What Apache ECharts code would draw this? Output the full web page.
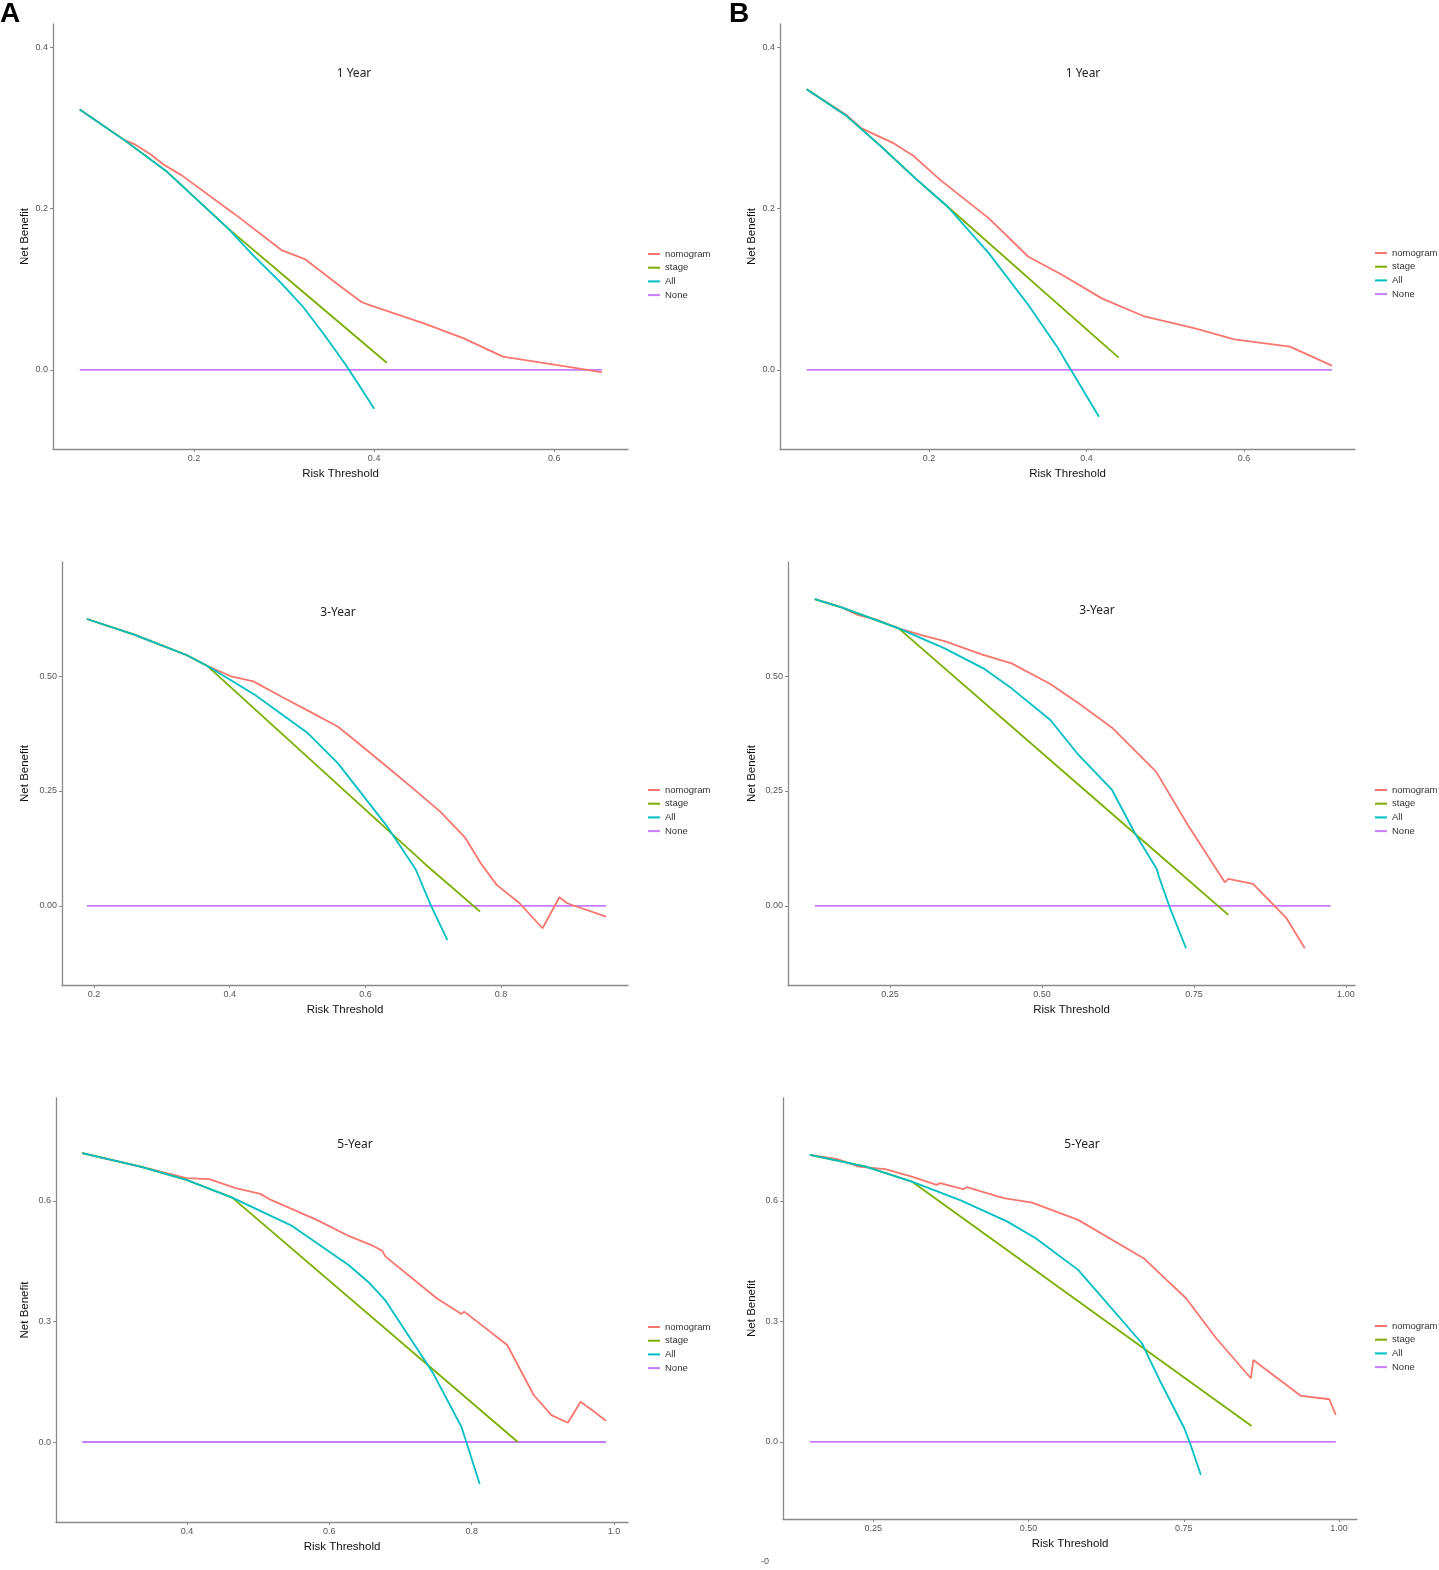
<!DOCTYPE html>
<html>
<head>
<meta charset="utf-8">
<title>Decision curves</title>
<script src="https://cdn.jsdelivr.net/npm/echarts@6/dist/echarts.min.js"></script>
<style>
  html, body { margin: 0; padding: 0; background: #fff; }
  #chart { width: 1439px; height: 1570px; }
</style>
</head>
<body>
<div id="chart"></div>
<script>
// values: [risk threshold, net benefit]
var a1Nomogram = [[0.073,0.323],[0.1226,0.285],[0.1344,0.2797],[0.152,0.2672],[0.166,0.2548],[0.186,0.2416],[0.2456,0.1929],[0.297,0.1487],[0.323,0.1375],[0.3646,0.102],[0.3864,0.084],[0.396,0.080],[0.456,0.0574],[0.4996,0.0392],[0.543,0.0165],[0.6266,0.002],[0.653,-0.003]];
var a1Stage = [[0.073,0.323],[0.1226,0.285],[0.17,0.2457],[0.2377,0.1755],[0.333,0.0855],[0.414,0.009]];
var a1All = [[0.073,0.323],[0.1226,0.285],[0.17,0.2457],[0.2377,0.1755],[0.2654,0.1425],[0.297,0.1074],[0.321,0.0784],[0.3448,0.0434],[0.3686,0.0062],[0.3844,-0.0207],[0.4,-0.048]];
var a1None = [[0.073,0],[0.653,0]];

var b1Nomogram = [[0.0447,0.348],[0.0941,0.3168],[0.1145,0.2995],[0.1554,0.2809],[0.1806,0.2652],[0.2146,0.2354],[0.2761,0.188],[0.3262,0.1404],[0.3694,0.1177],[0.4194,0.0888],[0.4722,0.0669],[0.5378,0.0516],[0.5878,0.038],[0.6584,0.0289],[0.7117,0.0054]];
var b1Stage = [[0.0447,0.348],[0.0941,0.316],[0.1373,0.2788],[0.1827,0.2375],[0.2238,0.2024],[0.3626,0.0826],[0.4409,0.0153]];
var b1All = [[0.0447,0.348],[0.0941,0.316],[0.1373,0.2788],[0.1827,0.2375],[0.2238,0.2024],[0.2761,0.1446],[0.3262,0.0805],[0.3626,0.0289],[0.3798,0.0009],[0.4159,-0.058]];
var b1None = [[0.0447,0],[0.7117,0]];

var a2Nomogram = [[0.1895,0.624],[0.2582,0.5906],[0.3362,0.5457],[0.3673,0.5217],[0.4037,0.4985],[0.4349,0.4884],[0.4765,0.4551],[0.5181,0.4225],[0.5596,0.3898],[0.596,0.3463],[0.6376,0.2957],[0.674,0.2507],[0.7102,0.2051],[0.7466,0.1493],[0.77,0.0928],[0.7935,0.0457],[0.8273,0.0058],[0.861,-0.0486],[0.8859,0.0188],[0.8974,0.0058],[0.9546,-0.0232]];
var a2Stage = [[0.1895,0.624],[0.2582,0.5906],[0.3362,0.5457],[0.3673,0.5217],[0.6894,0.0891],[0.769,-0.0123]];
var a2All = [[0.1895,0.624],[0.2582,0.5906],[0.3362,0.5457],[0.3673,0.5217],[0.4374,0.4587],[0.5154,0.3754],[0.5596,0.3101],[0.6323,0.1724],[0.674,0.0797],[0.6973,-0.0014],[0.7207,-0.0739]];
var a2None = [[0.1895,0],[0.9546,0]];

var b2Nomogram = [[0.1263,0.6674],[0.1715,0.6486],[0.1977,0.6326],[0.2266,0.6232],[0.2643,0.6036],[0.3049,0.5877],[0.3398,0.5761],[0.4007,0.5471],[0.45,0.5275],[0.5138,0.4826],[0.5602,0.4406],[0.6153,0.3877],[0.6877,0.292],[0.74,0.1761],[0.8008,0.0514],[0.8066,0.0587],[0.8472,0.0478],[0.9023,-0.0268],[0.9324,-0.092]];
var b2Stage = [[0.1263,0.6674],[0.1715,0.6486],[0.2643,0.6036],[0.653,0.157],[0.8066,-0.0196]];
var b2All = [[0.1263,0.6674],[0.1715,0.6486],[0.2643,0.6036],[0.3398,0.5601],[0.4036,0.5167],[0.45,0.4732],[0.5138,0.4043],[0.5602,0.3283],[0.6153,0.2522],[0.653,0.158],[0.6888,0.0804],[0.6924,0.0638],[0.7097,-0.0014],[0.737,-0.092]];
var b2None = [[0.1263,0],[0.975,0]];

var a3Nomogram = [[0.2529,0.7187],[0.3347,0.6854],[0.3992,0.6565],[0.4313,0.654],[0.4684,0.6316],[0.5031,0.6174],[0.518,0.6024],[0.5824,0.5527],[0.6271,0.5128],[0.6617,0.4879],[0.6742,0.4763],[0.6791,0.4613],[0.7509,0.3577],[0.7856,0.3187],[0.7896,0.3244],[0.85,0.2415],[0.8872,0.117],[0.912,0.067],[0.9353,0.048],[0.9531,0.1003],[0.969,0.0797],[0.9888,0.053]];
var a3Stage = [[0.2529,0.7187],[0.3347,0.6854],[0.3992,0.6522],[0.4636,0.6082],[0.8648,0.0]];
var a3All = [[0.2529,0.7187],[0.3347,0.6854],[0.3992,0.6522],[0.4636,0.6082],[0.5477,0.5377],[0.6271,0.4406],[0.6568,0.395],[0.6791,0.3518],[0.746,0.171],[0.7856,0.0381],[0.7931,-0.003],[0.8113,-0.1046]];
var a3None = [[0.2529,0],[0.9888,0]];

var b3Nomogram = [[0.1479,0.7145],[0.1923,0.7038],[0.2266,0.6854],[0.2693,0.6789],[0.3121,0.6605],[0.3519,0.6398],[0.3577,0.644],[0.3947,0.6291],[0.4004,0.634],[0.4602,0.6067],[0.5057,0.5957],[0.5799,0.5527],[0.6853,0.4573],[0.7167,0.4116],[0.7537,0.3577],[0.8022,0.2582],[0.8581,0.1585],[0.862,0.2041],[0.9389,0.1145],[0.9845,0.1063],[0.9948,0.0672]];
var b3Stage = [[0.1479,0.7145],[0.2379,0.6854],[0.3121,0.648],[0.8592,0.0398]];
var b3All = [[0.1479,0.7145],[0.2379,0.6854],[0.3121,0.648],[0.3918,0.6007],[0.466,0.5484],[0.5116,0.5071],[0.5799,0.4282],[0.6826,0.2457],[0.711,0.1543],[0.7509,0.0341],[0.7611,-0.0075],[0.7776,-0.0822]];
var b3None = [[0.1479,0],[0.9948,0]];

// tick values
var ticks1X = [0.2, 0.4, 0.6];
var ticks1Y = [0.0, 0.2, 0.4];
var ticksA2X = [0.2, 0.4, 0.6, 0.8];
var ticks2Y = [0.0, 0.25, 0.5];
var ticksB2X = [0.25, 0.5, 0.75, 1.0];
var ticksA3X = [0.4, 0.6, 0.8, 1.0];
var ticks3Y = [0.0, 0.3, 0.6];
var ticksB3X = [0.25, 0.5, 0.75, 1.0];

var seriesNames = ['nomogram', 'stage', 'All', 'None'];
var colors = ['#F8766D', '#7CAE00', '#00BFC4', '#C77CFF'];

// layout of the six panels (axis box in pixels, axis ranges)
var panels = [
    { box: [53, 24, 628, 449], xr: [0.0433, 0.682], yr: [-0.098, 0.429], xt: ticks1X, yt: ticks1Y, xd: 1, yd: 1,
      title: '1 Year', tp: [354, 68], lg: [648, 248], yGap: 22,
      data: [a1Nomogram, a1Stage, a1All, a1None] },
    { box: [780, 24, 1355, 449], xr: [0.0108, 0.741], yr: [-0.098, 0.429], xt: ticks1X, yt: ticks1Y, xd: 1, yd: 1,
      title: '1 Year', tp: [1083, 68], lg: [1375, 247], yGap: 22,
      data: [b1Nomogram, b1Stage, b1All, b1None] },
    { box: [62, 562, 628, 985], xr: [0.1528, 0.987], yr: [-0.172, 0.748], xt: ticksA2X, yt: ticks2Y, xd: 1, yd: 2,
      title: '3-Year', tp: [338, 607], lg: [648, 784], yGap: 31,
      data: [a2Nomogram, a2Stage, a2All, a2None] },
    { box: [788, 562, 1355, 985], xr: [0.0822, 1.015], yr: [-0.172, 0.748], xt: ticksB2X, yt: ticks2Y, xd: 2, yd: 2,
      title: '3-Year', tp: [1097, 605], lg: [1375, 784], yGap: 30,
      data: [b2Nomogram, b2Stage, b2All, b2None] },
    { box: [56, 1098, 628, 1522], xr: [0.216, 1.0197], yr: [-0.199, 0.856], xt: ticksA3X, yt: ticks3Y, xd: 1, yd: 1,
      title: '5-Year', tp: [355, 1139], lg: [648, 1321], yGap: 25,
      data: [a3Nomogram, a3Stage, a3All, a3None] },
    { box: [783, 1098, 1357, 1519], xr: [0.1046, 1.029], yr: [-0.1917, 0.856], xt: ticksB3X, yt: ticks3Y, xd: 2, yd: 1,
      title: '5-Year', tp: [1082, 1139], lg: [1375, 1320], yGap: 25,
      data: [b3Nomogram, b3Stage, b3All, b3None] }
];

var axisColor = '#8a8a8a';
var labelColor = '#555555';
var baseFont = '"Liberation Sans", Arial, sans-serif';

function fixed(d) {
    return function (v) { return Number(v).toFixed(d); };
}

var grid = [], xAxis = [], yAxis = [], series = [], title = [], legend = [];

panels.forEach(function (p, i) {
    grid.push({
        left: p.box[0], top: p.box[1],
        width: p.box[2] - p.box[0], height: p.box[3] - p.box[1]
    });
    xAxis.push({
        type: 'value', gridIndex: i, min: p.xr[0], max: p.xr[1],
        name: 'Risk Threshold', nameLocation: 'middle', nameGap: 19,
        nameTextStyle: { color: '#111', fontSize: 11.5, fontFamily: baseFont },
        axisLine: { onZero: false, lineStyle: { color: axisColor, width: 1.3 } },
        axisTick: { length: 3, customValues: p.xt, lineStyle: { color: axisColor } },
        axisLabel: {
            customValues: p.xt, margin: 5, color: labelColor, fontSize: 9, fontFamily: baseFont,
            formatter: fixed(p.xd)
        },
        splitLine: { show: false }
    });
    yAxis.push({
        type: 'value', gridIndex: i, min: p.yr[0], max: p.yr[1],
        name: 'Net Benefit', nameLocation: 'middle', nameGap: p.yGap,
        nameTextStyle: { color: '#111', fontSize: 11.5, fontFamily: baseFont },
        axisLine: { onZero: false, lineStyle: { color: axisColor, width: 1.3 } },
        axisTick: { length: 3, customValues: p.yt, lineStyle: { color: axisColor } },
        axisLabel: {
            customValues: p.yt, margin: 5, color: labelColor, fontSize: 9, fontFamily: baseFont,
            formatter: fixed(p.yd)
        },
        splitLine: { show: false }
    });
    // None goes first so the curves sit on top of it
    [3, 0, 1, 2].forEach(function (k) {
        series.push({
            name: seriesNames[k], type: 'line', xAxisIndex: i, yAxisIndex: i,
            data: p.data[k], showSymbol: false, symbol: 'none', silent: true,
            lineStyle: { color: colors[k], width: 1.8 },
            itemStyle: { color: colors[k] },
            z: k === 3 ? 1 : 2
        });
    });
    title.push({
        text: p.title, left: p.tp[0], top: p.tp[1], textAlign: 'center', padding: 0,
        textStyle: { fontSize: 12, fontWeight: 'normal', color: '#222', fontFamily: '"Noto Sans", "Open Sans", sans-serif' }
    });
    legend.push({
        data: seriesNames, orient: 'vertical', left: p.lg[0], top: p.lg[1],
        icon: 'rect', itemWidth: 12, itemHeight: 2, itemGap: 1.7,
        selectedMode: false, padding: 0,
        textStyle: { fontSize: 9.5, color: '#333', fontFamily: baseFont, lineHeight: 12 }
    });
});

var chart = echarts.init(document.getElementById('chart'), null, { renderer: 'canvas' });
chart.setOption({
    backgroundColor: '#ffffff',
    animation: false,
    color: colors,
    title: title,
    legend: legend,
    grid: grid,
    xAxis: xAxis,
    yAxis: yAxis,
    series: series,
    graphic: [
        { type: 'text', left: 0, top: 0, style: { text: 'A', fontSize: 28, fontWeight: 'bold', fill: '#000', fontFamily: baseFont } },
        { type: 'text', left: 729, top: 0, style: { text: 'B', fontSize: 28, fontWeight: 'bold', fill: '#000', fontFamily: baseFont } },
        { type: 'text', left: 761, top: 1557, style: { text: '-0', fontSize: 9, fill: labelColor, fontFamily: baseFont } }
    ]
});
</script>
</body>
</html>
